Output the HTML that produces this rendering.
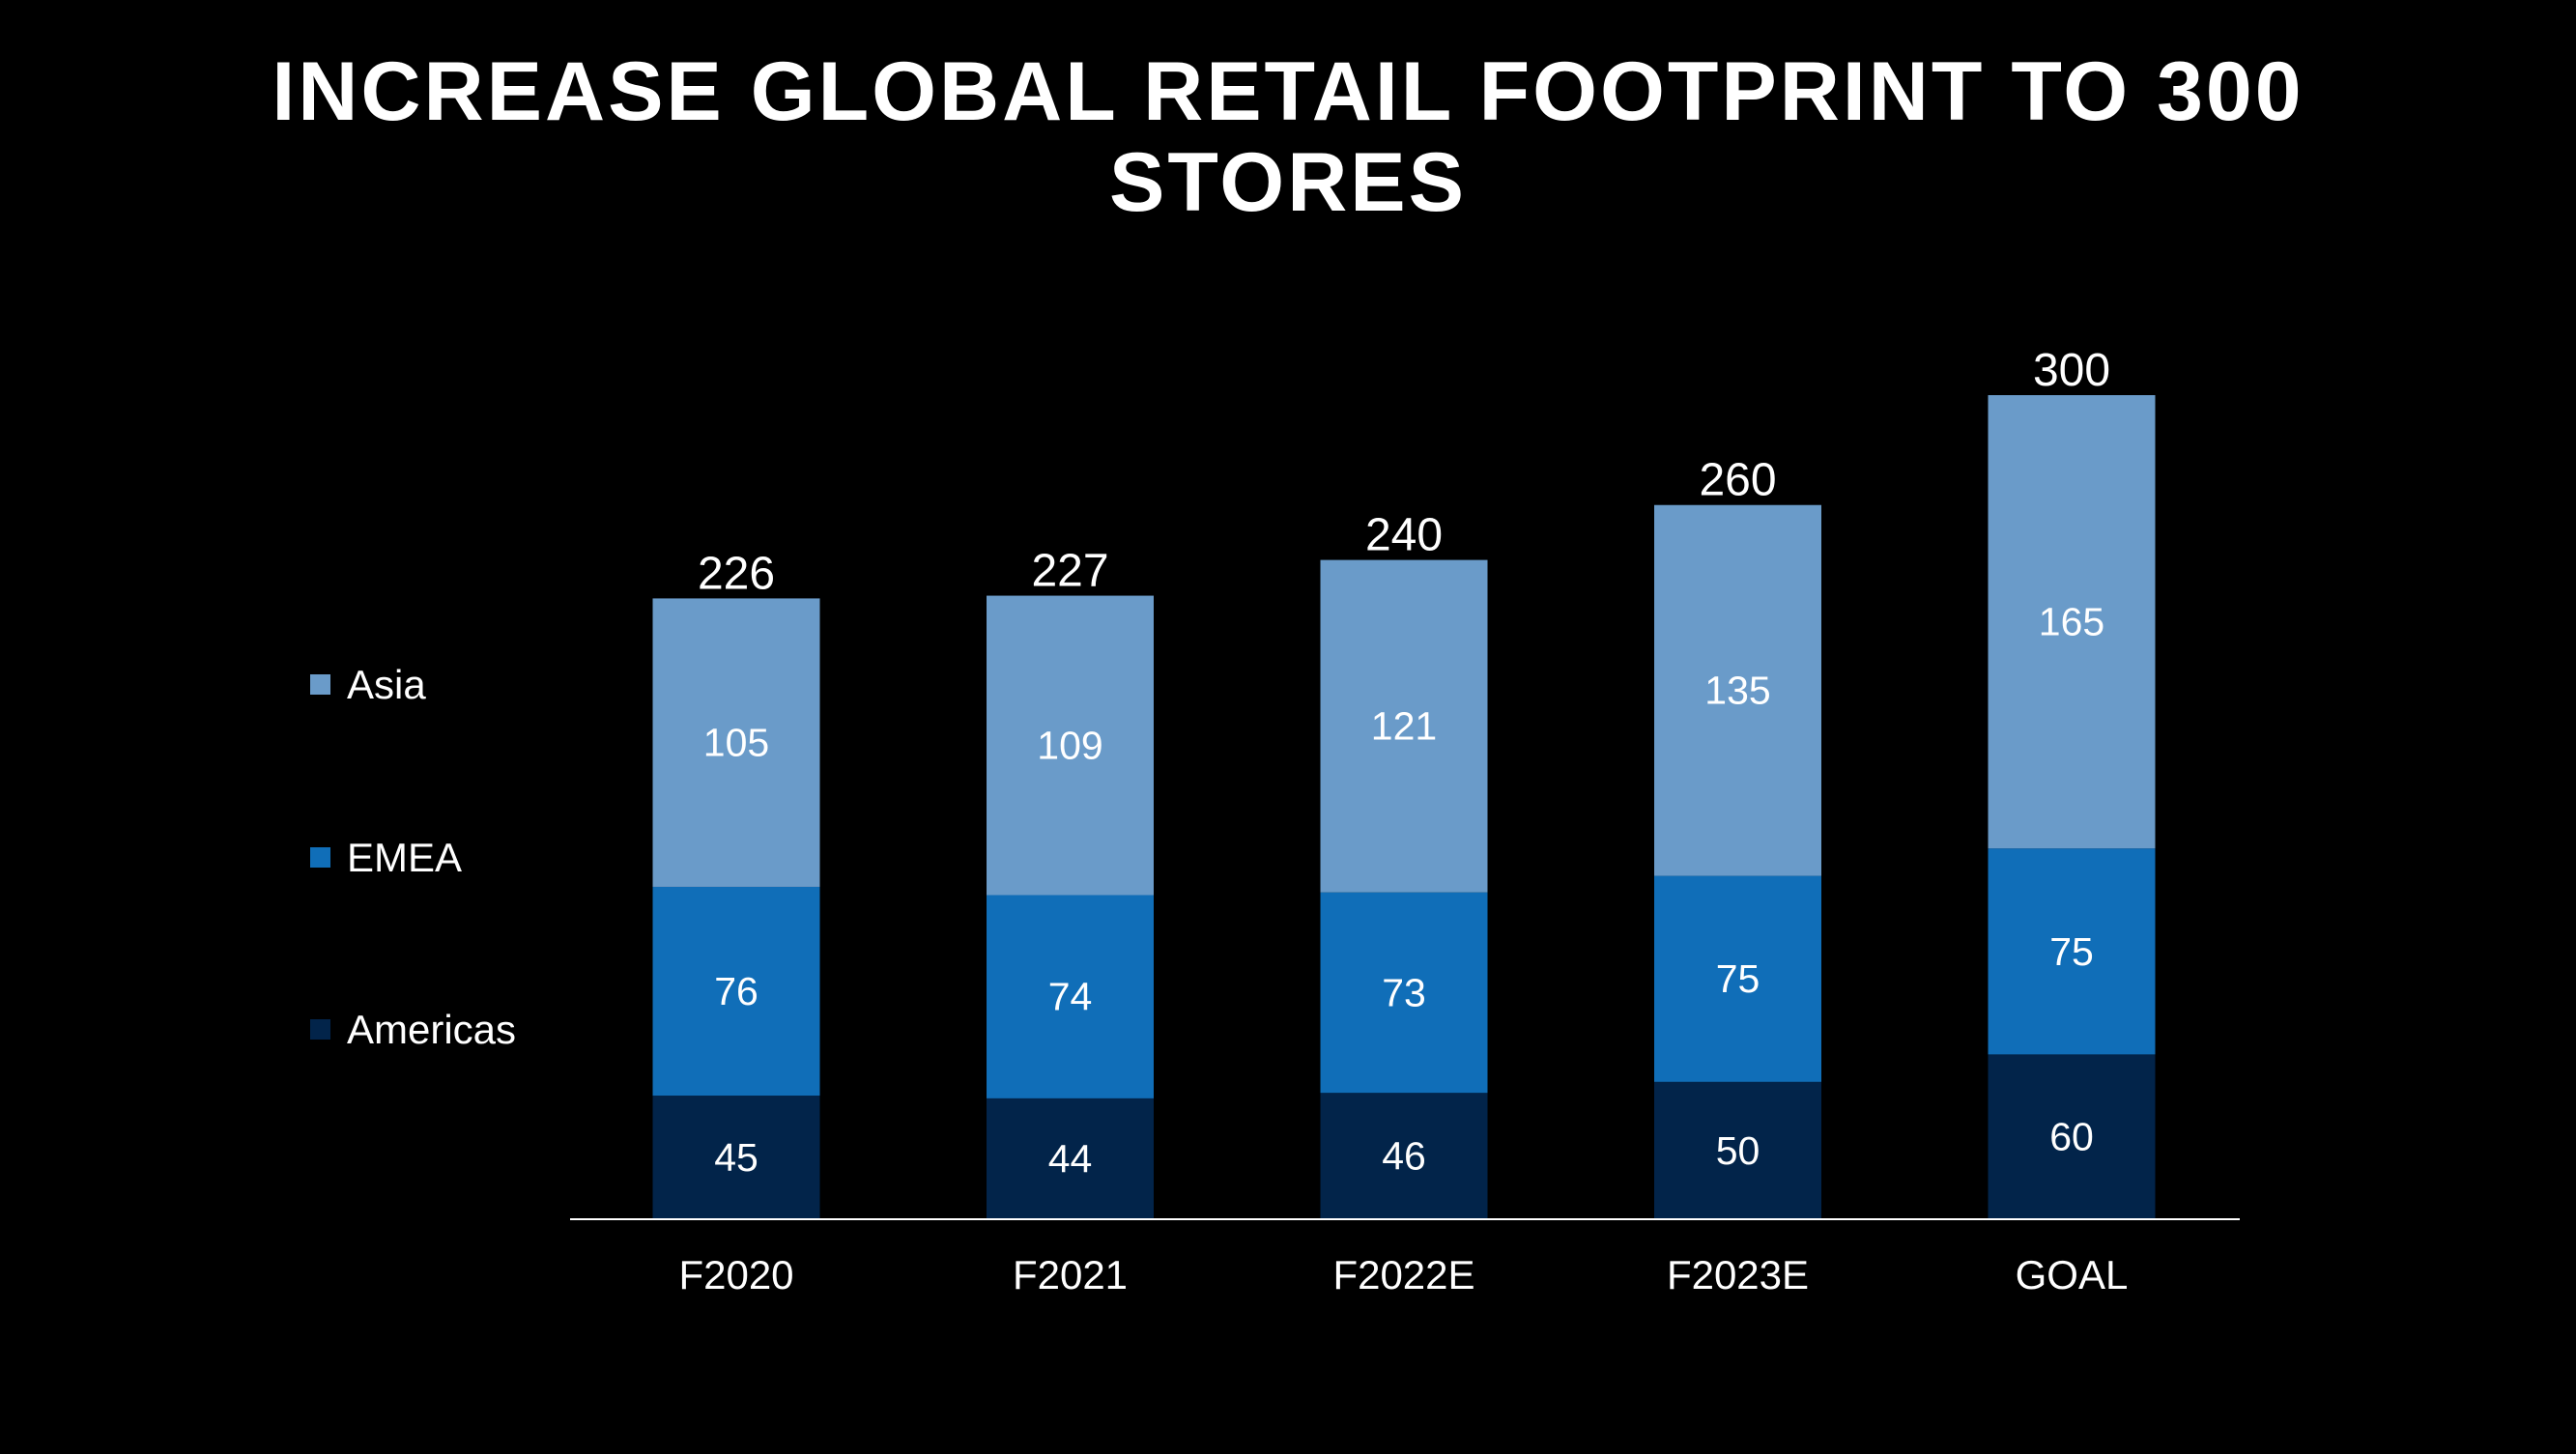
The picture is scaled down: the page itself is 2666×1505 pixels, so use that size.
<!DOCTYPE html>
<html><head><meta charset="utf-8"><style>
html,body{margin:0;padding:0;background:#000;}
body{width:2666px;height:1500px;overflow:hidden;font-family:"Liberation Sans",sans-serif;}
</style></head><body>
<svg id="chart" width="2666" height="1500" viewBox="0 0 2666 1500" xmlns="http://www.w3.org/2000/svg">
<rect width="2666" height="1500" fill="#000"/>
<text x="1333" y="124" fill="#fff" font-size="86" font-weight="bold" text-anchor="middle" letter-spacing="3">INCREASE GLOBAL RETAIL FOOTPRINT TO 300</text>
<text x="1333" y="218" fill="#fff" font-size="86" font-weight="bold" text-anchor="middle" letter-spacing="3">STORES</text>
<g id="legend">
<g><rect x="321" y="698" width="21" height="21" fill="#6A9BC9"/><text x="359" y="723" fill="#fff" font-size="42">Asia</text></g>
<g><rect x="321" y="877" width="21" height="21" fill="#106EB8"/><text x="359" y="902" fill="#fff" font-size="42">EMEA</text></g>
<g><rect x="321" y="1055" width="21" height="21" fill="#02244A"/><text x="359" y="1080" fill="#fff" font-size="42">Americas</text></g>
</g>
<g id="bars"></g>
<line x1="590" y1="1262" x2="2318" y2="1262" stroke="#fff" stroke-width="2"/>
<g id="xlabels"></g>
</svg>
<script>
const categories = ["F2020","F2021","F2022E","F2023E","GOAL"];
const americas = [45,44,46,50,60];
const emea = [76,74,73,75,75];
const asia = [105,109,121,135,165];
const totals = [226,227,240,260,300];

const NS="http://www.w3.org/2000/svg";
const baseY=1262, yMax=300, plotH=853;
const x0=762, step=345.5, barW=173;
function yScale(v){return baseY - v/yMax*plotH;}
function xCenter(i){return x0 + i*step;}
const series=[{name:"americas",vals:americas,color:"#02244A"},{name:"emea",vals:emea,color:"#106EB8"},{name:"asia",vals:asia,color:"#6A9BC9"}];
const gb=document.getElementById("bars");
const gx=document.getElementById("xlabels");
categories.forEach((c,i)=>{
  let acc=0;
  series.forEach(s=>{
    const v=s.vals[i];
    const yTop=yScale(acc+v), yBot=yScale(acc);
    const r=document.createElementNS(NS,"rect");
    r.setAttribute("x",xCenter(i)-barW/2);r.setAttribute("y",yTop);
    r.setAttribute("width",barW);r.setAttribute("height",yBot-yTop);
    r.setAttribute("fill",s.color);
    
    
    gb.appendChild(r);
    const t=document.createElementNS(NS,"text");
    t.setAttribute("x",xCenter(i));t.setAttribute("y",(yTop+yBot)/2+14);
    t.setAttribute("fill","#fff");t.setAttribute("font-size","41");t.setAttribute("text-anchor","middle");
    t.textContent=v;
    
    
    gb.appendChild(t);
    acc+=v;
  });
  const tt=document.createElementNS(NS,"text");
  tt.setAttribute("x",xCenter(i));tt.setAttribute("y",yScale(totals[i])-10);
  tt.setAttribute("fill","#fff");tt.setAttribute("font-size","48");tt.setAttribute("text-anchor","middle");
  tt.textContent=totals[i];
  
  
  gb.appendChild(tt);
  const xl=document.createElementNS(NS,"text");
  xl.setAttribute("x",xCenter(i));xl.setAttribute("y",1334);
  xl.setAttribute("fill","#fff");xl.setAttribute("font-size","42");xl.setAttribute("text-anchor","middle");
  xl.textContent=c;
  
  
  gx.appendChild(xl);
});
</script>
</body></html>
